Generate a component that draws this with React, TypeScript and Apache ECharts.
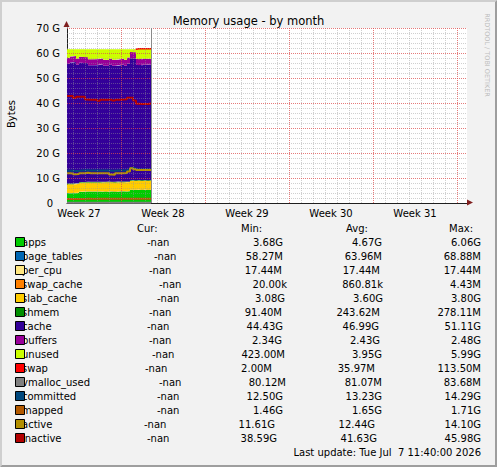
import React, { useEffect, useRef } from "react";
import * as echarts from "echarts";

// ---- data (hours since the left edge of the plot; values in GiB) ----
const hours = [0, 6, 12, 18, 24, 30, 36, 42, 48, 54, 60, 66, 72, 78, 84, 90, 96, 102, 108, 114, 120, 126, 132, 138, 144, 150, 156, 162, 168];
const apps = [3.90, 3.88, 3.92, 4.05, 4.45, 4.48, 4.50, 4.52, 4.50, 4.55, 4.50, 4.55, 4.58, 4.55, 4.60, 4.58, 4.55, 4.60, 4.62, 4.60, 4.70, 5.20, 5.25, 5.20, 5.30, 5.22, 5.28, 5.20, 5.25];
const pageTables = [0.060, 0.061, 0.061, 0.062, 0.062, 0.063, 0.063, 0.063, 0.064, 0.064, 0.064, 0.064, 0.064, 0.065, 0.065, 0.065, 0.065, 0.065, 0.066, 0.066, 0.066, 0.067, 0.067, 0.067, 0.068, 0.068, 0.068, 0.069, 0.069];
const perCpu = [0.0174, 0.0174, 0.0174, 0.0174, 0.0174, 0.0174, 0.0174, 0.0174, 0.0174, 0.0174, 0.0174, 0.0174, 0.0174, 0.0174, 0.0174, 0.0174, 0.0174, 0.0174, 0.0174, 0.0174, 0.0174, 0.0174, 0.0174, 0.0174, 0.0174, 0.0174, 0.0174, 0.0174, 0.0174];
const swapCache = [0.0002, 0.0003, 0.0005, 0.0006, 0.0008, 0.0008, 0.0009, 0.0009, 0.0009, 0.0008, 0.0009, 0.0009, 0.0009, 0.0009, 0.0009, 0.0009, 0.0009, 0.0009, 0.0009, 0.0009, 0.0009, 0.0010, 0.0010, 0.0020, 0.0044, 0.0010, 0.0008, 0.0008, 0.0008];
const slabCache = [3.55, 3.56, 3.55, 3.54, 3.58, 3.60, 3.60, 3.61, 3.62, 3.60, 3.62, 3.61, 3.60, 3.62, 3.63, 3.62, 3.60, 3.62, 3.63, 3.62, 3.60, 3.55, 3.56, 3.58, 3.55, 3.57, 3.56, 3.58, 3.56];
const shmem = [0.23, 0.24, 0.24, 0.25, 0.25, 0.24, 0.25, 0.25, 0.25, 0.24, 0.25, 0.25, 0.26, 0.25, 0.25, 0.25, 0.26, 0.25, 0.25, 0.26, 0.26, 0.27, 0.27, 0.26, 0.27, 0.27, 0.27, 0.28, 0.27];
const cache = [47.94, 48.42, 48.57, 47.43, 47.71, 47.68, 47.43, 46.59, 46.62, 46.61, 46.71, 46.88, 46.36, 46.36, 46.69, 46.34, 46.39, 46.51, 46.69, 46.29, 47.10, 48.82, 48.67, 46.18, 45.92, 46.20, 46.06, 46.22, 46.19];
const buffers = [2.40, 2.42, 2.44, 2.45, 2.43, 2.42, 2.44, 2.45, 2.43, 2.42, 2.44, 2.43, 2.42, 2.44, 2.45, 2.43, 2.42, 2.44, 2.43, 2.45, 2.46, 2.48, 2.47, 2.40, 2.38, 2.36, 2.35, 2.34, 2.35];
const unused = [3.40, 2.90, 2.70, 3.70, 3.00, 3.00, 3.20, 4.00, 4.00, 4.00, 3.90, 3.70, 4.20, 4.20, 3.80, 4.20, 4.20, 4.00, 3.80, 4.20, 3.30, 1.10, 1.20, 3.90, 4.10, 3.90, 4.00, 3.90, 3.90];
const swap = [0.002, 0.002, 0.002, 0.002, 0.002, 0.002, 0.002, 0.002, 0.002, 0.002, 0.002, 0.002, 0.002, 0.002, 0.002, 0.002, 0.002, 0.002, 0.002, 0.002, 0.002, 0.002, 0.002, 0.11, 0.11, 0.11, 0.11, 0.11, 0.11];
const vmallocUsed = [0.080, 0.080, 0.080, 0.081, 0.081, 0.081, 0.081, 0.081, 0.081, 0.081, 0.081, 0.081, 0.081, 0.081, 0.081, 0.081, 0.081, 0.081, 0.081, 0.081, 0.082, 0.082, 0.082, 0.082, 0.083, 0.083, 0.083, 0.084, 0.084];
const committed = [12.9, 12.9, 12.8, 12.8, 13.0, 13.0, 13.1, 13.0, 13.0, 13.0, 13.0, 13.0, 13.0, 13.0, 12.9, 12.9, 13.0, 13.0, 13.0, 13.1, 13.3, 14.0, 13.8, 13.4, 13.4, 13.4, 13.4, 13.4, 13.4];
const mapped = [1.60, 1.60, 1.62, 1.62, 1.65, 1.65, 1.66, 1.66, 1.65, 1.66, 1.66, 1.67, 1.66, 1.66, 1.67, 1.67, 1.66, 1.67, 1.68, 1.67, 1.68, 1.70, 1.70, 1.69, 1.70, 1.70, 1.69, 1.70, 1.70];
const active = [11.9, 11.8, 11.5, 11.6, 11.9, 11.9, 12.1, 11.9, 11.9, 11.9, 11.9, 11.9, 11.9, 11.9, 11.4, 11.3, 11.9, 11.9, 11.9, 12.0, 12.6, 13.9, 13.5, 13.2, 13.2, 13.2, 13.2, 13.2, 13.2];
const inactive = [42.8, 42.8, 42.0, 42.5, 42.5, 42.5, 41.4, 41.3, 41.3, 41.3, 40.9, 41.3, 41.3, 41.3, 41.3, 41.0, 41.3, 41.3, 41.4, 41.5, 42.1, 42.1, 41.0, 39.7, 39.6, 39.6, 39.6, 39.8, 39.6];
const dataEndHour = 169;

// ---- axis ----
const xMaxHour = 800;
const weekLabels = ["Week 27", "Week 28", "Week 29", "Week 30", "Week 31"];
const weekLabelHours = [24, 192, 360, 528, 696];
const weekStartHours = [108, 276, 444, 612, 780];
const yTicks = [0, 10, 20, 30, 40, 50, 60, 70];

// ---- legend ----
const legendNames = ["apps", "page_tables", "per_cpu", "swap_cache", "slab_cache", "shmem", "cache", "buffers", "unused", "swap", "vmalloc_used", "committed", "mapped", "active", "inactive"];
const curValues = ["-nan", "-nan", "-nan", "-nan", "-nan", "-nan", "-nan", "-nan", "-nan", "-nan", "-nan", "-nan", "-nan", "-nan", "-nan"];
const minValues = ["3.68G", "58.27M", "17.44M", "20.00k", "3.08G", "91.40M", "44.43G", "2.34G", "423.00M", "2.00M", "80.12M", "12.50G", "1.46G", "11.61G", "38.59G"];
const avgValues = ["4.67G", "63.96M", "17.44M", "860.81k", "3.60G", "243.62M", "46.99G", "2.43G", "3.95G", "35.97M", "81.07M", "13.23G", "1.65G", "12.44G", "41.63G"];
const maxValues = ["6.06G", "68.88M", "17.44M", "4.43M", "3.80G", "278.11M", "51.11G", "2.48G", "5.99G", "113.50M", "83.68M", "14.29G", "1.71G", "14.10G", "45.98G"];
const lastUpdate = "Last update: Tue Jul  7 11:40:00 2026";

// ---- styles / layout ----
const colors = ["#00CC00", "#0066B3", "#FFE680", "#FF8000", "#FFCC00", "#008F00", "#330099", "#990099", "#CCFF00", "#FF0000", "#808080", "#00487D", "#B35A00", "#B38F00", "#B30000"];
const curX = [147, 154, 149, 159, 157, 149, 147, 149, 152, 145, 159, 157, 157, 144, 147];
const minRight = [283, 283, 282, 287, 285, 282, 283, 282, 285, 272, 286, 283, 283, 275, 277];
const avgRight = [382, 382, 380, 383, 383, 380, 379, 380, 382, 375, 382, 382, 382, 375, 377];
const FONT = "DejaVu Sans";
const W = 497;
const H = 467;
const G = { left: 67, top: 28, width: 400, height: 175 };
const HOUR = 3600 * 1000;

const stackData = [apps, pageTables, perCpu, swapCache, slabCache, shmem, cache, buffers, unused, swap];
const lineData = [vmallocUsed, committed, mapped, active, inactive];

const ms = (h: number) => h * HOUR;

function pts(vals: number[]) {
  return hours.map((h, i) => [ms(h), vals[i]]);
}

function txt(text: string, x: number, y: number, align: string, size = 10, fill = "#000", extra: any = {}) {
  return {
    type: "text",
    x,
    y,
    silent: true,
    z: 100,
    ...extra,
    style: { text, fill, fontSize: size, fontFamily: FONT, align, textAlign: align, verticalAlign: "middle", textVerticalAlign: "middle" },
  };
}

function gridLineSeries(items: any[], lineStyle: any, z: number) {
  return {
    type: "line",
    xAxisIndex: 0,
    data: [],
    z,
    silent: true,
    markLine: {
      silent: true,
      symbol: ["none", "none"],
      label: { show: false },
      animation: false,
      lineStyle,
      data: items,
    },
  };
}

function buildOption() {
  const series: any[] = [];
  // swap's top edge is only visible where swap is actually in use (the last stretch)
  const swapStart = (hours[23] - hours[0]) / (hours[hours.length - 1] - hours[0]);
  const swapEdge = {
    type: "linear", x: 0, y: 0, x2: 1, y2: 0,
    colorStops: [
      { offset: 0, color: "rgba(255,0,0,0)" },
      { offset: swapStart - 0.001, color: "rgba(255,0,0,0)" },
      { offset: swapStart, color: "#FF0000" },
      { offset: 1, color: "#FF0000" },
    ],
  };
  stackData.forEach((vals, i) => {
    const isSwap = legendNames[i] === "swap";
    series.push({
      name: legendNames[i],
      type: "line",
      xAxisIndex: 0,
      stack: "mem",
      step: "end",
      symbol: "none",
      data: pts(vals),
      z: 2,
      itemStyle: { color: colors[i] },
      lineStyle: isSwap ? { width: 1.5, color: swapEdge } : { width: 0, color: colors[i] },
      areaStyle: { color: colors[i], opacity: 1 },
      silent: true,
    });
  });
  lineData.forEach((vals, j) => {
    const i = stackData.length + j;
    series.push({
      name: legendNames[i],
      type: "line",
      xAxisIndex: 0,
      step: "end",
      symbol: "none",
      data: pts(vals),
      z: 3,
      itemStyle: { color: colors[i] },
      lineStyle: { width: 2, color: colors[i] },
      silent: true,
    });
  });

  // grid drawn on top of the data, like rrdtool
  const minorX: any[] = [];
  for (let h = 12; h < xMaxHour; h += 24) {
    if (weekStartHours.indexOf(h) < 0) minorX.push({ xAxis: ms(h) });
  }
  const minorY: any[] = [];
  for (let v = 2; v < 70; v += 2) {
    if (v % 10 !== 0) minorY.push({ yAxis: v });
  }
  const majorX = weekStartHours.map((h) => ({ xAxis: ms(h) }));
  const majorY = yTicks.filter((v) => v > 0).map((v) => ({ yAxis: v }));

  series.push(gridLineSeries([...minorX, ...minorY], { color: "rgba(150,150,150,0.45)", width: 1, type: [1, 1] }, 5));
  series.push(gridLineSeries([...majorX, ...majorY], { color: "rgba(222,79,79,0.75)", width: 1, type: [1, 1] }, 6));
  series.push(gridLineSeries([{ xAxis: ms(dataEndHour) }], { color: "#8a8a8a", width: 1, type: "solid" }, 6));

  const graphics: any[] = [];
  // frame
  graphics.push({ type: "polygon", silent: true, z: 1, shape: { points: [[0, 0], [W, 0], [W - 2, 2], [2, 2], [2, H - 2], [0, H]] }, style: { fill: "#CFCFCF" } });
  graphics.push({ type: "polygon", silent: true, z: 1, shape: { points: [[W, 0], [W, H], [0, H], [2, H - 2], [W - 2, H - 2], [W - 2, 2]] }, style: { fill: "#9E9E9E" } });
  // title etc.
  graphics.push(txt("Memory usage - by month", W / 2, 21, "center", 11.5));
  graphics.push(txt("Bytes", 11, 114, "center", 10, "#000", { rotation: Math.PI / 2 }));
  graphics.push(txt("RRDTOOL / TOBI OETIKER", 487, 55, "center", 6.5, "#BDBDBD", { rotation: -Math.PI / 2 }));
  // arrows
  graphics.push({ type: "polygon", silent: true, z: 50, shape: { points: [[467, 199.5], [473, 202.5], [467, 205.5]] }, style: { fill: "#801F1F" } });
  graphics.push({ type: "polygon", silent: true, z: 50, shape: { points: [[63.5, 27], [66.5, 21], [69.5, 27]] }, style: { fill: "#801F1F" } });
  // legend header
  const headerY = 228;
  graphics.push(txt("Cur:", 137, headerY, "left"));
  graphics.push(txt("Min:", 241, headerY, "left"));
  graphics.push(txt("Avg:", 346, headerY, "left"));
  graphics.push(txt("Max:", 449, headerY, "left"));
  legendNames.forEach((name, i) => {
    const y = 242 + 14 * i;
    graphics.push(txt(name, 22, y, "left"));
    graphics.push({ type: "rect", silent: true, z: 101, shape: { x: 15.5, y: y - 4.5, width: 9, height: 9 }, style: { fill: colors[i], stroke: "#000", lineWidth: 1 } });
    graphics.push(txt(curValues[i], curX[i], y, "left"));
    graphics.push(txt(minValues[i], minRight[i], y, "right"));
    graphics.push(txt(avgValues[i], avgRight[i], y, "right"));
    graphics.push(txt(maxValues[i], 481, y, "right"));
  });
  graphics.push(txt(lastUpdate, 481, 452, "right"));

  return {
    animation: false,
    backgroundColor: "#F2F2F2",
    grid: { ...G, show: true, backgroundColor: "#FFFFFF", borderWidth: 0, containLabel: false },
    xAxis: [
      {
        // data axis: time, so that the stack is computed on the y values
        type: "time",
        min: 0,
        max: ms(xMaxHour),
        axisLine: { show: true, lineStyle: { color: "#1F1F1F", width: 1 } },
        axisTick: { show: false },
        splitLine: { show: false },
        axisLabel: { show: false },
      },
      {
        // label axis in hours, on the same grid
        type: "value",
        position: "bottom",
        min: 0,
        max: xMaxHour,
        axisLine: { show: false },
        axisTick: { show: false },
        splitLine: { show: false },
        axisLabel: {
          customValues: weekLabelHours,
          formatter: (v: number) => {
            const k = weekLabelHours.indexOf(v);
            return k >= 0 ? weekLabels[k] : "";
          },
          color: "#000",
          fontSize: 10,
          fontFamily: FONT,
          margin: 5,
        },
      },
    ],
    yAxis: {
      type: "value",
      min: 0,
      max: 70,
      interval: 10,
      axisLine: { show: true, lineStyle: { color: "#1F1F1F", width: 1 } },
      axisTick: { show: false },
      splitLine: { show: false },
      axisLabel: {
        formatter: (v: number) => (v === 0 ? "{z|0}" : `${v} G`),
        color: "#000",
        fontSize: 10,
        fontFamily: FONT,
        margin: 7,
        rich: { z: { padding: [0, 7, 0, 0], color: "#000", fontSize: 10, fontFamily: FONT } },
      },
    },
    graphic: { elements: graphics },
    series,
  };
}

export default function App() {
  const ref = useRef<HTMLDivElement>(null);
  useEffect(() => {
    if (!ref.current) return;
    const chart = echarts.init(ref.current, null, { renderer: "svg" });
    chart.setOption(buildOption() as any);
    return () => chart.dispose();
  }, []);
  return <div ref={ref} style={{ position: "absolute", left: 0, top: 0, width: W, height: H }} />;
}
